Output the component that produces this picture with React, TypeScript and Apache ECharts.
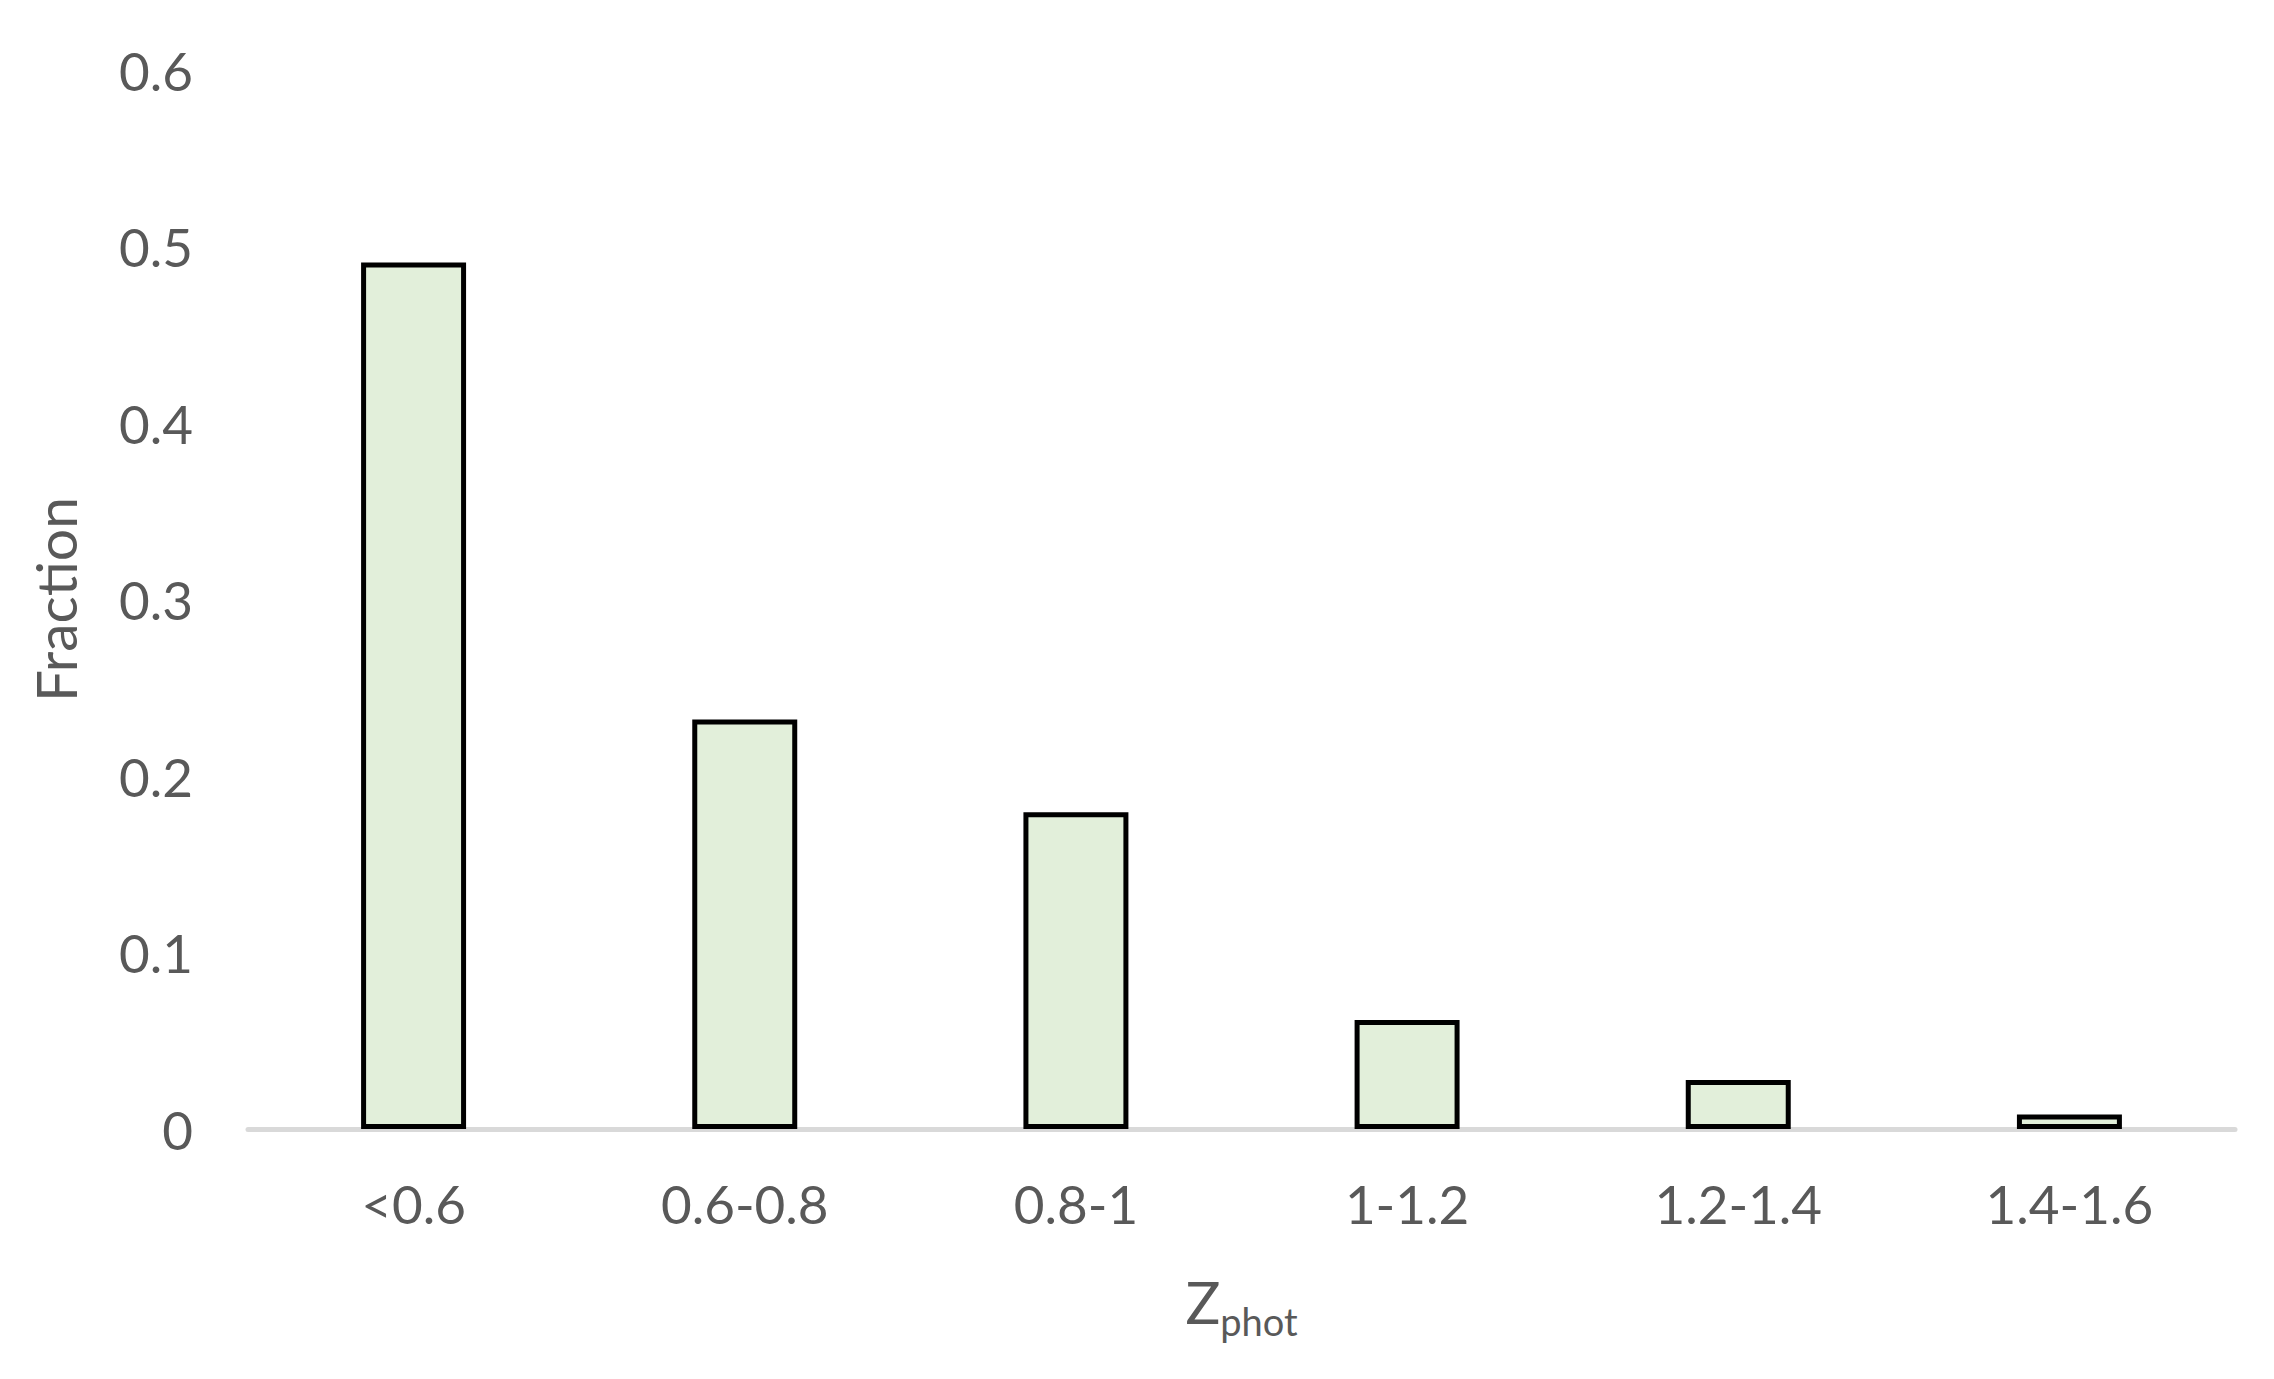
import React, { useEffect, useRef } from "react";
import * as echarts from "echarts";

const categories = ["<0.6", "0.6-0.8", "0.8-1", "1-1.2", "1.2-1.4", "1.4-1.6"];
const fractions = [0.491, 0.232, 0.1795, 0.0617, 0.0277, 0.0082];
const yTicks = { min: 0, max: 0.6, interval: 0.1 };

const TEXT = "#595959";
const FONT = "Lato, 'Open Sans', sans-serif";

export default function App() {
  const ref = useRef<HTMLDivElement>(null);
  useEffect(() => {
    if (!ref.current) return;
    const chart = echarts.init(ref.current, undefined, { renderer: "svg" });
    chart.setOption({
      animation: false,
      backgroundColor: "#ffffff",
      textStyle: { fontFamily: FONT, color: TEXT },
      grid: { left: 248, right: 39, top: 70, bottom: 250 },
      xAxis: {
        type: "category",
        data: categories,
        axisLine: { show: true, lineStyle: { color: "#d9d9d9", width: 5 } },
        axisTick: { show: false },
        axisLabel: { color: TEXT, fontSize: 53, fontFamily: FONT, margin: 48 },
        name: "{z|Z}{s|phot}",
        nameLocation: "middle",
        nameGap: 133,
        nameTextStyle: {
          color: TEXT,
          fontFamily: FONT,
          rich: {
            z: { fontSize: 58, color: TEXT, fontFamily: FONT },
            s: { fontSize: 38, color: TEXT, fontFamily: FONT, padding: [40, 0, 0, 0] },
          },
        },
      },
      yAxis: {
        type: "value",
        min: yTicks.min,
        max: yTicks.max,
        interval: yTicks.interval,
        axisLine: { show: false },
        axisTick: { show: false },
        splitLine: { show: false },
        axisLabel: {
          color: TEXT,
          fontSize: 53,
          fontFamily: FONT,
          margin: 55,
          formatter: (v: number) => String(Math.round(v * 10) / 10),
        },
        name: "Fraction",
        nameLocation: "middle",
        nameGap: 165,
        nameTextStyle: { color: TEXT, fontSize: 57, fontFamily: FONT },
      },
      series: [
        {
          type: "bar",
          data: fractions,
          barWidth: "31.7%",
          itemStyle: { color: "#e2efda", borderColor: "#000000", borderWidth: 5 },
        },
      ],
    });
    return () => chart.dispose();
  }, []);
  return (
    <div
      ref={ref}
      style={{ position: "absolute", left: 0, top: 0, width: 2274, height: 1379 }}
    />
  );
}
